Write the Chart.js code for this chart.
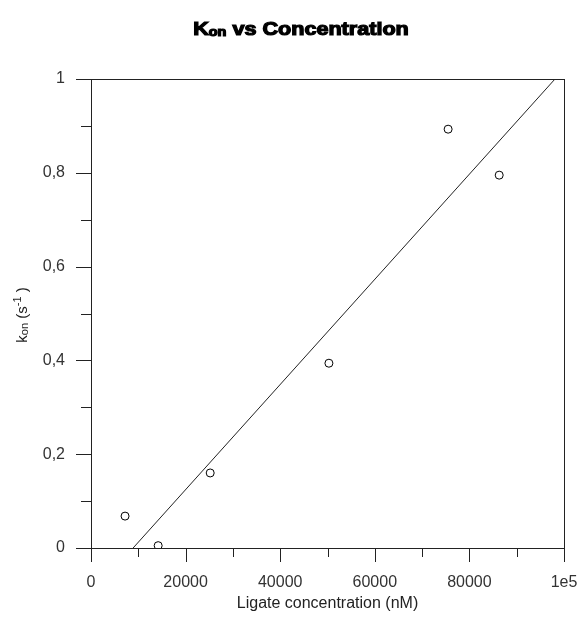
<!DOCTYPE html>
<html>
<head>
<meta charset="utf-8">
<script src="https://cdn.jsdelivr.net/npm/chart.js@4/dist/chart.umd.min.js"></script>
<style>
  body { margin: 0; background: #fff; }
  #wrap { width: 579px; height: 617px; }
</style>
</head>
<body>
<div id="wrap"><canvas id="myChart" width="579" height="617"></canvas></div>
<script>
// measured points
const concentrations = [7200, 14200, 25200, 50300, 75500, 86300];
const konValues = [0.068, 0.005, 0.160, 0.394, 0.893, 0.795];

// fitted line (end points as drawn)
const fitConcentrations = [8900, 98100];
const fitKon = [0, 1];

const xLabels = { 0: '0', 20000: '20000', 40000: '40000', 60000: '60000', 80000: '80000', 100000: '1e5' };
const yLabels = ['0', '0,2', '0,4', '0,6', '0,8', '1'];

const tickFont = { family: 'Liberation Sans', size: 16 };
const tickColor = '#333';

// draws the box and the outward tick marks (long for labelled, short for the rest)
const framePlugin = {
    id: 'frame',
    afterDraw(chart) {
        const c = chart.ctx;
        const a = chart.chartArea;
        c.save();
        c.strokeStyle = '#222';
        c.lineWidth = 1;
        c.strokeRect(Math.round(a.left) + 0.5, Math.round(a.top) + 0.5,
            Math.round(a.right - a.left), Math.round(a.bottom - a.top));

        const xs = chart.scales.x;
        xs.ticks.forEach(t => {
            const px = Math.round(xs.getPixelForValue(t.value)) + 0.5;
            const len = t.value % 20000 === 0 ? 14 : 9;
            c.beginPath();
            c.moveTo(px, a.bottom);
            c.lineTo(px, a.bottom + len);
            c.stroke();
        });
        const ys = chart.scales.y;
        ys.ticks.forEach(t => {
            const py = Math.round(ys.getPixelForValue(t.value)) + 0.5;
            const len = Math.round(t.value * 10) % 2 === 0 ? 15 : 10;
            c.beginPath();
            c.moveTo(a.left, py);
            c.lineTo(a.left - len, py);
            c.stroke();
        });
        c.restore();
    }
};

// title and y label with sub/superscripts
const textPlugin = {
    id: 'texts',
    afterDraw(chart) {
        const c = chart.ctx;
        c.save();
        c.fillStyle = '#000';
        c.strokeStyle = '#000';
        c.textBaseline = 'alphabetic';

        // title (heavy and wide, like the original)
        const big = 'bold 18px "Liberation Sans"';
        const small = 'bold 12px "Liberation Sans"';
        const parts = [
            { t: 'K', f: big, dy: 0 },
            { t: 'on', f: small, dy: 1 },
            { t: ' vs Concentration', f: big, dy: 0 }
        ];
        const sx = 1.2;
        let w = 0;
        parts.forEach(p => { c.font = p.f; w += c.measureText(p.t).width; });
        c.save();
        c.translate(301 - w * sx / 2, 35);
        c.scale(sx, 1);
        let x = 0;
        c.lineWidth = 1.2;
        parts.forEach(p => {
            c.font = p.f;
            c.fillText(p.t, x, p.dy);
            c.strokeText(p.t, x, p.dy);
            x += c.measureText(p.t).width;
        });
        c.restore();

        // y axis label
        c.fillStyle = '#222';
        c.translate(27, 315);
        c.rotate(-Math.PI / 2);
        const n = '15px "Liberation Sans"';
        const s = '11px "Liberation Sans"';
        const yparts = [
            { t: 'k', f: n, dy: 0 },
            { t: 'on', f: s, dy: 1 },
            { t: ' (s', f: n, dy: 0 },
            { t: '-1', f: s, dy: -6 },
            { t: ' )', f: n, dy: 0 }
        ];
        w = 0;
        yparts.forEach(p => { c.font = p.f; w += c.measureText(p.t).width; });
        x = -w / 2;
        yparts.forEach(p => {
            c.font = p.f;
            c.fillText(p.t, x, p.dy);
            x += c.measureText(p.t).width;
        });
        c.restore();
    }
};

const ctx = document.getElementById('myChart');

const config = {
    type: 'scatter',
    data: {
        datasets: [{
            data: concentrations.map((v, i) => ({ x: v, y: konValues[i] })),
            pointStyle: 'circle',
            pointRadius: 4,
            pointBorderWidth: 1,
            backgroundColor: '#fff',
            borderColor: '#000',
            order: 1
        }, {
            data: fitConcentrations.map((v, i) => ({ x: v, y: fitKon[i] })),
            showLine: true,
            pointRadius: 0,
            borderColor: '#222',
            borderWidth: 1,
            order: 2
        }]
    },
    options: {
        responsive: false,
        animation: false,
        layout: { padding: { top: 79, right: 15, left: 0, bottom: 0 } },
        scales: {
            x: {
                type: 'linear',
                min: 0,
                max: 100000,
                grid: { display: false },
                border: { display: false },
                afterFit: s => { s.height = 69; s.paddingLeft = 0; s.paddingRight = 0; },
                ticks: {
                    stepSize: 10000,
                    autoSkip: false,
                    maxRotation: 0,
                    padding: 17,
                    font: tickFont,
                    color: tickColor,
                    callback: v => xLabels[v] !== undefined ? xLabels[v] : ''
                },
                title: {
                    display: true,
                    text: 'Ligate concentration (nM)',
                    font: { family: 'Liberation Sans', size: 16 },
                    color: '#222',
                    padding: { top: 0, bottom: 4 }
                }
            },
            y: {
                min: 0,
                max: 1,
                grid: { display: false },
                border: { display: false },
                afterFit: s => { s.width = 91; s.paddingTop = 0; s.paddingBottom = 0; },
                ticks: {
                    stepSize: 0.1,
                    autoSkip: false,
                    padding: 18,
                    font: tickFont,
                    color: tickColor,
                    callback: v => {
                        const k = Math.round(v * 10);
                        return k % 2 === 0 ? yLabels[k / 2] : '';
                    }
                }
            }
        },
        plugins: {
            legend: { display: false },
            tooltip: { enabled: false }
        }
    },
    plugins: [framePlugin, textPlugin]
};

const myChart = new Chart(ctx, config);
</script>
</body>
</html>
